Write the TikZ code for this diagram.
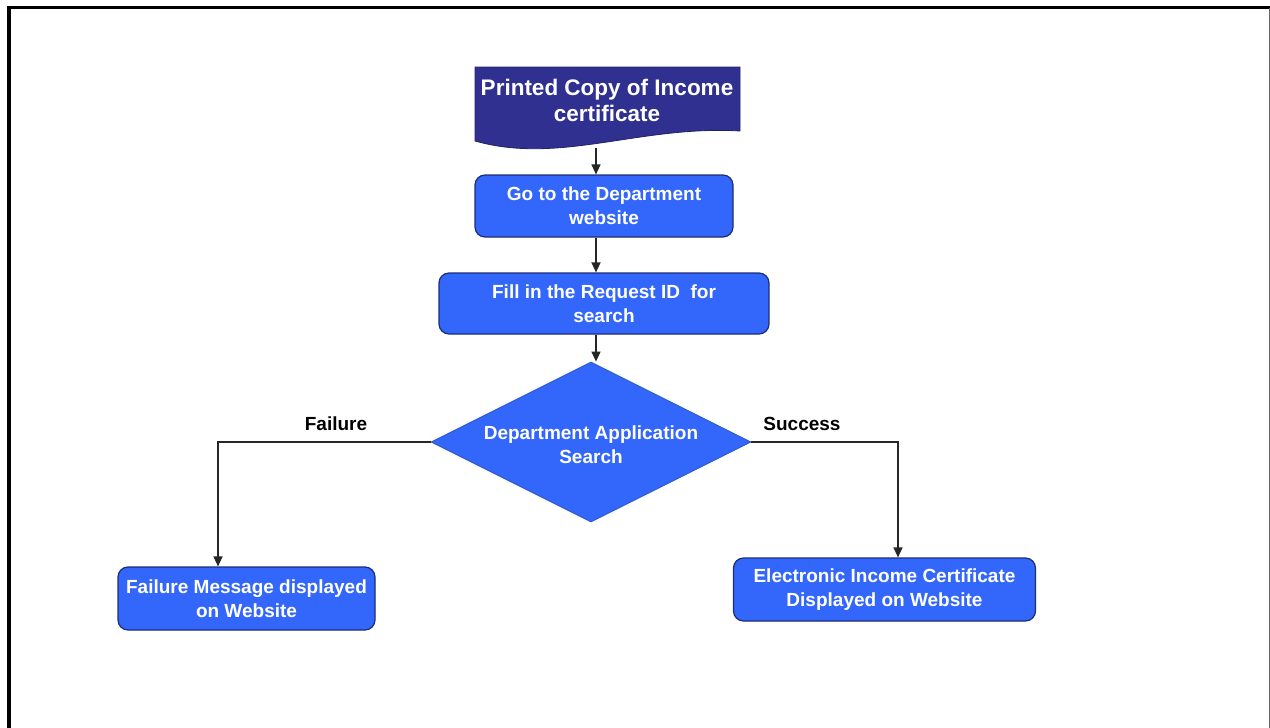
\documentclass[tikz,border=0pt]{standalone}
\usepackage{fontspec}
\setmainfont{Liberation Sans}
\usetikzlibrary{shapes.geometric,arrows.meta}
\definecolor{boxblue}{RGB}{51,102,250}
\definecolor{navy}{RGB}{48,48,145}
\definecolor{edge}{RGB}{30,45,120}
\begin{document}
\begin{tikzpicture}[x=1pt,y=-1pt,
  proc/.style={draw=edge, line width=1.2pt, fill=boxblue, rounded corners=10pt, inner sep=0pt, align=center, text=white, font=\fontsize{19}{24}\selectfont\bfseries},
  lbl/.style={font=\fontsize{19}{24}\selectfont\bfseries, text=black},
  arr/.style={draw=black!85, line width=1.3pt, -{Triangle[length=10pt,width=9pt]}}]
\useasboundingbox (0,0) rectangle (1270,728);
\draw[line width=3.5pt] (9,745) -- (9,7.5) -- (1270,7.5);
\draw[black!60, line width=1.4pt] (1269.3,7.5) -- (1269.3,745);
% document shape
\node[inner sep=0pt, minimum width=264pt, minimum height=81pt] (doc) at (607,107.5) {};
\fill[navy, draw=navy!70!black, line width=0.8pt] (475,67) -- (740,67) -- (740,131) .. controls (640,125) and (560,165) .. (475,141) -- cycle;
\node[text=white, align=center, font=\fontsize{22.5}{26}\selectfont\bfseries] (doctext) at (607,100) {Printed Copy of Income\\certificate};
% process boxes
\node[proc, minimum width=258pt, minimum height=62pt] (box1) at (604,206) {Go to the Department\\website};
\node[proc, minimum width=330pt, minimum height=61pt] (box2) at (604,303.5) {Fill in the Request ID\ \ for\\search};
\node[diamond, aspect=2, inner sep=0pt, minimum width=320pt, minimum height=160pt, fill=boxblue, draw=boxblue!80!black, line width=0.8pt] (dia) at (591,442) {};
\node[text=white, align=center, font=\fontsize{19}{24}\selectfont\bfseries] (diatext) at (591,445) {Department Application\\Search};
\node[proc, minimum width=257pt, minimum height=63pt] (fail) at (246.5,598.5) {Failure Message displayed\\on Website};
\node[proc, minimum width=302pt, minimum height=63pt] (succ) at (884.5,589.5) {Electronic Income Certificate\\Displayed on Website};
% labels
\node[lbl] (lfail) at (336,424) {Failure};
\node[lbl] (lsucc) at (802,424) {Success};
% connectors
\coordinate (spine) at (596,0);
\coordinate (fx) at (218,0);
\coordinate (sx) at (898,0);
\draw[arr] (doc.south -| spine) -- (box1.north -| spine);
\draw[arr] (box1.south -| spine) -- (box2.north -| spine);
\draw[arr] (box2.south -| spine) -- (dia.north -| spine);
\draw[arr] (dia.west) -| (fx |- fail.north);
\draw[arr] (dia.east) -| (sx |- succ.north);
\end{tikzpicture}
\end{document}
